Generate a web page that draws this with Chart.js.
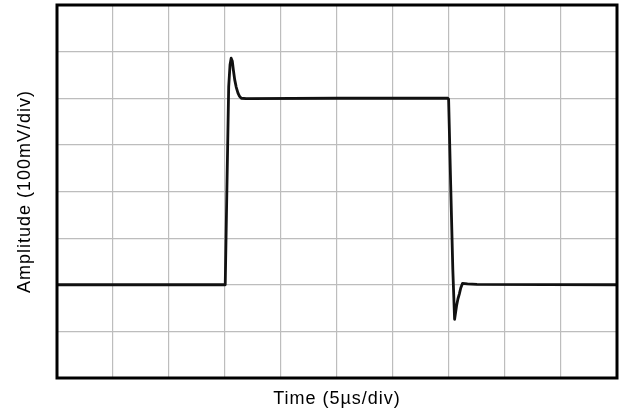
<!DOCTYPE html>
<html>
<head>
<meta charset="utf-8">
<script src="https://cdn.jsdelivr.net/npm/chart.js@4/dist/chart.umd.min.js"></script>
<style>
  html, body { margin: 0; padding: 0; background: #fff; }
  #wrap { width: 621px; height: 415px; }
</style>
</head>
<body>
<div id="wrap"><canvas id="c" width="621" height="415"></canvas></div>
<script>
// Pulse response trace, both axes in screen divisions
const timeDiv = [0, 3.004, 3.066, 3.09, 3.11, 3.13, 3.15, 3.173, 3.2, 3.232, 3.26, 3.292, 3.38, 5.0, 6.98,
                 6.993, 7.03, 7.068, 7.10, 7.135, 7.16, 7.184, 7.21, 7.242, 7.33, 7.5, 10];
const amplitudeDiv = [2.0, 2.0, 6.25, 6.72, 6.86, 6.80, 6.60, 6.40, 6.24, 6.11, 6.04, 6.0, 5.99, 6.0, 6.0,
                      5.98, 4.15, 2.33, 1.26, 1.55, 1.70, 1.80, 1.93, 2.03, 2.02, 2.01, 2.0];

// Graticule: 10 horizontal x 8 vertical divisions
const xDivisions = 10;
const yDivisions = 8;
const xTitle = 'Time (5\u00B5s/div)';
const yTitle = 'Amplitude (100mV/div)';

const points = timeDiv.map((t, i) => ({ x: t, y: amplitudeDiv[i] }));

// Slightly open lettering for the axis titles
const spacingPlugin = {
  id: 'spacing',
  beforeDraw(chart) { chart.ctx.letterSpacing = '1px'; }
};

// Heavy frame around the plotting area
const framePlugin = {
  id: 'frame',
  afterDraw(chart) {
    const { ctx, chartArea: a } = chart;
    ctx.save();
    ctx.strokeStyle = '#000';
    ctx.lineWidth = 3;
    ctx.strokeRect(a.left, a.top, a.right - a.left, a.bottom - a.top);
    ctx.restore();
  }
};

const font = { family: '"Liberation Sans", Arial, sans-serif', size: 18 };

new Chart(document.getElementById('c'), {
  type: 'scatter',
  data: {
    datasets: [{
      data: points,
      showLine: true,
      borderColor: '#111',
      borderWidth: 2.8,
      pointRadius: 0,
      tension: 0,
      borderJoinStyle: 'round',
      borderCapStyle: 'round'
    }]
  },
  options: {
    responsive: false,
    animation: false,
    events: [],
    layout: { padding: { left: 0, top: 5, right: 4, bottom: 0 } },
    plugins: { legend: { display: false }, tooltip: { enabled: false } },
    scales: {
      x: {
        type: 'linear', min: 0, max: xDivisions,
        ticks: { display: false, stepSize: 1 },
        grid: { color: '#bdbdbd', lineWidth: 1.2, drawTicks: false },
        border: { display: false },
        title: { display: true, text: xTitle, color: '#000', font, padding: { top: 0, bottom: 5 } },
        afterFit(scale) { scale.height = 37; }
      },
      y: {
        type: 'linear', min: 0, max: yDivisions,
        ticks: { display: false, stepSize: 1 },
        grid: { color: '#bdbdbd', lineWidth: 1.2, drawTicks: false },
        border: { display: false },
        title: { display: true, text: yTitle, color: '#000', font, padding: { top: 14, bottom: 0 } },
        afterFit(scale) { scale.width = 57; }
      }
    }
  },
  plugins: [spacingPlugin, framePlugin]
});
</script>
</body>
</html>
